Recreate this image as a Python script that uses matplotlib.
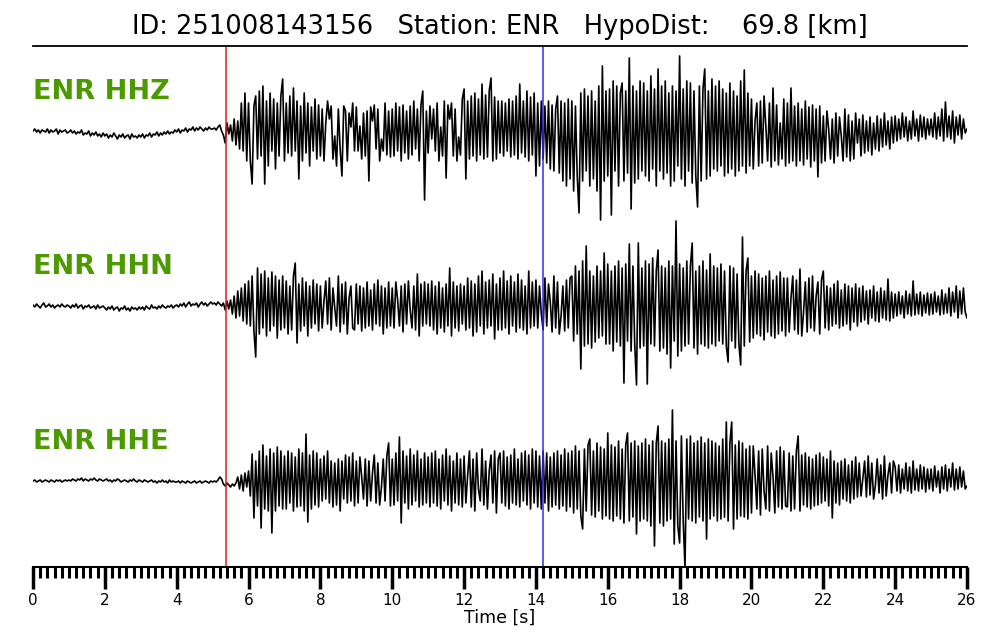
import matplotlib.pyplot as plt
import numpy as np

# header info
event_id = "251008143156"
station = "ENR"
hypodist = 69.8

# picks [s]
p_pick = 5.37
s_pick = 14.21

fs = 20.0  # samples per second of the traced waveforms

# amplitudes (pixels, up = positive), one row per second
hhz = [
    0, 2, -1, 1, -2, 1, 0, -1, 2, -2, 1, -1, 0, 2, -3, 1, -1, 0, 1, -2,
    -1, 1, -2, 0, -3, -1, -2, 1, -4, -2, -3, 0, -5, -2, -4, -1, -5, -3, -6, -2,
    -5, -3, -7, -4, -6, -2, -5, -8, -4, -6, -3, -7, -5, -4, -8, -3, -6, -5, -7, -4,
    -6, -3, -7, -4, -5, -2, -6, -3, -4, -1, -5, -2, -4, -1, -3, 0, -3, -1, -2, 1,
    -1, 2, -2, 1, 0, 3, -1, 2, 1, 4, 0, 3, 1, 4, 2, 0, 3, 1, 4, 2,
    2, 3, 1, 4, 6, 0, -4, -12, 8, -3, 6, -10, 12, -14, 10, -18, 28, -20, 38, -30,
    28, -30, -53, 25, 35, -28, 40, -25, 45, -53, 30, -35, 38, -20, 32, -38, 28, -25, 35, 52,
    -30, 28, -22, 35, -25, 43, -20, 30, -48, 25, -30, 38, -22, 28, -35, 24, -20, 32, -28, 26,
    -25, 22, -30, 8, 30, 12, 25, -28, -5, -35, 22, -18, -45, 25, 20, -30, 18, 4, 28, -20,
    24, -20, 5, -28, 18, -25, 20, -50, 24, 10, 26, -18, 22, -30, -8, -20, 28, -24, 20, -26,
    22, -25, 28, -20, 24, -30, 26, -22, 20, -28, 25, -24, 30, -18, 22, -30, 26, 40, -69, 20,
    -22, 25, -8, 22, -20, 28, -30, 4, -25, 30, -47, 26, 12, 28, -25, 22, -30, -6, -24, 32,
    42, -48, 30, -28, 35, -25, 38, -30, 32, -24, 47, -28, 36, -26, 40, 53, -30, 34, -28, 30,
    -22, 30, -25, 28, -20, 32, -26, 30, -24, 35, -28, 47, -22, 30, -26, 40, -30, 34, -24, 38,
    -45, 28, -35, 30, -28, 25, -32, 30, -38, 26, -40, 22, 35, -42, 30, -50, 28, -55, 32, -48,
    30, -60, 25, -45, -82, 38, -50, 42, -40, 35, -55, 40, -48, 30, -60, 45, -89, 65, -50, 40,
    -45, 42, -84, 50, -40, 45, -55, 38, 48, -50, 40, -42, 73, -78, 45, -52, 40, -48, 50, -40,
    48, -45, 40, -50, 55, -38, 42, -55, 62, -40, 45, -48, 50, -42, 38, -55, 45, -50, 40, -35,
    75, -48, 42, -55, 50, -40, 48, -52, 40, -45, -76, 45, -50, 42, 62, -48, 40, -45, 52, -38,
    45, -40, 50, -35, 42, -45, 38, -42, 48, -38, 40, -45, 35, -40, 50, -35, 61, -42, 38, -35,
    32, -38, 10, 28, -35, 30, -32, 35, 5, -30, 28, -36, 43, -30, 26, -34, 8, -28, 32, -35,
    28, -32, 43, -30, 25, -35, 28, -30, 22, -34, 30, -28, 24, -36, 26, -30, 22, -46, 25, -32,
    15, -30, 20, 2, -28, 12, -32, 18, -25, 14, -5, -30, 22, -26, 16, -30, 10, -28, 18, -12,
    12, -25, 16, -22, 10, -20, 14, -24, 8, -18, 15, -20, 12, -16, 18, -14, 10, -18, 14, -12,
    15, -10, 12, -8, 18, -6, 14, -10, 10, -8, 20, -5, 12, -10, 16, -6, 14, -8, 12, -4,
    12, -6, 18, -8, 14, -5, 22, -10, 29, -6, 15, -8, 20, -12, 14, -4, 16, -8, 12, -2,
    2,
]

hhn = [
    1, -1, 2, 0, -2, 1, 3, -1, 0, 2, -1, 1, -2, 0, 1, -1, 2, 0, -1, 1,
    0, -2, 1, -1, 2, -2, 0, 1, -3, 0, -1, 1, -2, -1, 0, -3, 1, -2, -1, 0,
    -2, -4, -1, -3, 0, -4, -2, -1, -5, -2, -3, 0, -4, -2, -5, -1, -3, -2, -4, -1,
    -3, -1, -4, 0, -2, -3, 1, -2, -1, -3, 0, -2, 1, -1, -2, 0, -1, 1, -2, 0,
    1, -1, 2, 0, 3, -1, 2, 4, 0, 2, 1, 3, -1, 2, 4, 1, 3, 0, 2, 4,
    2, 3, 1, 4, 2, 0, 3, -4, 5, -3, 6, -8, 10, -12, 15, -10, 18, -15, 22, -18,
    25, -20, 30, -25, -51, 38, -28, 32, -22, 35, -30, 28, -25, 34, -20, 30, -32, 26, -24, 30,
    -22, 25, -28, 20, -24, 30, 43, -37, 22, -25, 28, -20, 24, -30, 20, -22, 26, -18, 22, -25,
    20, -22, 5, 25, -18, 28, -24, 18, -2, -20, 30, -26, 22, -18, 24, -28, 8, 20, -22, -24,
    22, -18, 20, -25, 18, -22, 24, -20, 16, -24, 22, -18, 26, -20, 20, -28, 18, -22, 24, -20,
    18, -22, 24, 6, -20, 20, -26, 22, -18, 25, -4, -22, 20, -24, 32, -30, 22, -20, 24, -18,
    22, -20, 25, -24, 20, -28, 24, -22, 18, -26, 22, -20, 38, -30, 24, -22, 20, -25, 22, -18,
    20, -24, 28, -22, 25, -30, 22, -26, 30, -20, 35, -28, 24, -22, 26, -20, 32, -33, 22, -24,
    28, -24, 35, -22, 25, -28, 30, -20, 24, -26, 32, -22, 26, -24, 20, -28, 35, -22, 24, -20,
    26, -22, 20, -8, -24, 28, -20, 22, 4, -26, 30, -22, 24, -28, -10, 20, -25, 26, -22, 28,
    30, -35, 40, -28, 35, -63, 45, -40, 60, -38, 35, -42, 30, -36, 40, -32, 35, -30, 53, -38,
    42, -38, 35, -45, 40, -36, 45, -40, 38, -77, 42, -35, 62, -45, 40, -38, -79, 63, -42, 38,
    -40, 45, -78, 42, -38, 48, -40, 35, 56, -45, 40, -42, 38, -48, 45, -62, 40, -35, 85, -50,
    42, -45, 38, -40, 45, -38, 40, 63, -42, 35, -48, 40, -38, 45, -40, 36, -42, 52, -38, 40,
    -40, 38, -35, 42, -38, 35, -40, -56, 40, -35, 38, -42, 32, -38, -59, 69, -40, 35, 48, -36,
    30, -32, 35, -28, 32, -30, 28, -34, 30, -26, 35, -30, 26, -32, 30, -28, 34, -25, 28, -30,
    28, -26, 8, 30, -24, 26, -28, 37, -30, -6, 24, -26, 28, -22, 30, -25, 10, 24, -28, 26,
    35, -22, 20, -24, 18, -20, 22, -18, 25, -22, 16, -20, 22, -18, 20, -24, 18, -16, 22, -20,
    18, -16, 20, -14, 15, -18, 16, -12, 20, -15, 14, -16, 18, -12, 15, -14, 27, -15, 14, -12,
    12, -10, 14, -8, 10, -12, 15, -8, 12, -10, 25, -9, 12, -8, 14, -10, 11, -7, 13, -9,
    12, -8, 14, -6, 10, -9, 16, -8, 12, -7, 18, -10, 14, -6, 20, -12, 15, -8, 18, -6,
    -12,
]

hhe = [
    0, 1, -1, 0, 1, -1, 0, 1, 0, -1, 1, 0, -1, 1, 0, 1, -1, 0, 1, 0,
    1, 0, 2, 1, 0, 2, 1, 3, 0, 2, 1, 0, 2, 1, 3, 1, 0, 2, 1, 0,
    1, 2, 0, 1, -1, 1, 0, 2, 1, -1, 0, 1, 0, -1, 1, 0, 2, 0, -1, 1,
    0, -1, 1, 0, -1, 0, 1, -1, 0, -2, 0, -1, 1, -1, 0, -2, 1, -1, 0, -1,
    -1, 0, -2, 0, -1, -2, 0, -1, -2, -1, 0, -2, -1, 0, -2, -1, 0, -1, -2, 0,
    -1, 0, -1, 1, 4, 2, -3, -5, -2, -4, -6, -3, -5, -2, 4, -8, 6, -10, 8, -6,
    10, -15, 27, -37, 20, -25, 30, -47, 36, -28, 25, -30, 32, -52, 28, -30, 34, -25, 30, -28,
    25, -28, 30, -22, 28, -30, 24, -26, 32, -25, 28, -30, 47, -41, 26, -28, 30, -24, 28, -26,
    22, -20, 25, -18, 30, -22, 20, -26, 18, -24, 22, -30, 20, -18, 26, -22, 24, -20, 28, -25,
    20, -22, 24, 4, -18, 22, -25, 20, -20, 8, 26, -22, 18, -24, -6, 22, -20, 25, 38, -25,
    22, -24, 28, -20, 44, -42, 30, -22, 25, -28, 32, -24, 26, -20, 30, -26, 22, -24, 28, -22,
    24, -26, 28, -22, 30, -25, 22, -28, 26, -20, 32, -24, 25, -30, 20, -22, 28, -24, 22, -26,
    25, -22, 6, 30, -26, 22, -30, 28, -8, -20, 32, -24, 20, -28, 10, 26, -22, 30, -32, 22,
    28, -22, 30, -25, 24, -28, 26, -22, 32, -24, 22, -26, 28, -20, 30, -24, 26, -28, 32, -22,
    30, -26, 25, -28, 30, -22, 28, -30, 24, -26, 28, -24, 30, -28, 26, -25, 32, -30, 28, -26,
    30, -32, 35, -28, 30, -35, -48, 32, -30, 36, 42, -34, 30, -36, 38, -30, 34, -38, 32, -35,
    48, -38, 36, -40, 34, -35, 40, -38, 32, -42, 36, 48, -40, 38, -36, 40, -53, 35, -40, 38,
    -38, 42, -40, 36, -45, 40, -65, 38, 55, -42, 40, -45, 38, -40, 42, -38, 71, -63, 40, -45,
    -62, 45, -40, -87, 42, -38, 45, -40, 38, -42, 40, -36, 44, -40, 38, -58, 42, -38, 40, -35,
    38, -40, 35, -38, 42, -36, 59, -40, 38, 59, -48, 36, -38, 40, -35, 38, -36, 32, -38, 35,
    -32, 35, 6, -28, 30, -34, 32, -10, -28, 35, -30, 28, 4, -32, 30, -26, 34, -28, 30, -25,
    -26, 28, -30, 25, -28, 30, 45, -30, 26, -24, 28, -26, 24, -28, 22, -25, 26, -24, 28, -22,
    24, -20, 22, -25, 30, -37, 20, -22, 18, -24, 20, -18, 22, -20, 16, -22, 20, -18, 24, -16,
    18, -15, 2, 20, -16, 25, -14, 18, -18, -4, 22, -12, 16, -18, 25, -15, 6, 18, -12, 20,
    14, -10, 16, -12, 12, -8, 18, -10, 14, -12, 20, -9, 12, -10, 16, -8, 14, -11, 12, -8,
    12, -10, 15, -6, 10, -12, 14, -8, 16, -10, 12, -6, 18, -9, 12, -8, 14, -6, 10, -8,
    -5,
]

channels = ["HHZ", "HHN", "HHE"]
traces = [hhz, hhn, hhe]
offsets = [0, -175, -350]

fig = plt.figure(figsize=(10, 6.4), dpi=100)
ax = fig.add_axes([0.033, 1 - 567/640, 0.934, (567 - 46)/640])

for ch, tr, off in zip(channels, traces, offsets):
    tr = np.array(tr, dtype=float)
    t = np.arange(len(tr)) / fs
    ax.plot(t, tr + off, color='black', lw=1.2)
    ax.text(0, off + 39, station + " " + ch, color='#4b9a00', fontsize=19.5,
            fontweight='bold', ha='left', va='center')

ax.axvline(p_pick, color='#e31a1c', lw=1.1)
ax.axvline(s_pick, color='#2b2bff', lw=1.1)

ax.set_xlim(0, 26)
ax.set_ylim(-436, 85)
ax.set_yticks([])
ax.spines['left'].set_visible(False)
ax.spines['right'].set_visible(False)
ax.spines['top'].set_linewidth(1.3)
ax.spines['bottom'].set_linewidth(1.5)

ax.set_xticks(np.arange(0, 27, 2))
ax.set_xticks(np.arange(0, 26.01, 0.2), minor=True)
ax.tick_params(axis='x', which='major', direction='out', length=16, width=2.5,
               labelsize=11, pad=3)
ax.tick_params(axis='x', which='minor', direction='out', length=8, width=2.2)
ax.set_xlabel("Time [s]", fontsize=12.5, labelpad=0)

fig.text(0.5, 1 - 27/640,
         "ID: %s   Station: %s   HypoDist:    %.1f [km]" % (event_id, station, hypodist),
         ha='center', va='center', fontsize=18.5)

plt.savefig('out.png', dpi=100)
